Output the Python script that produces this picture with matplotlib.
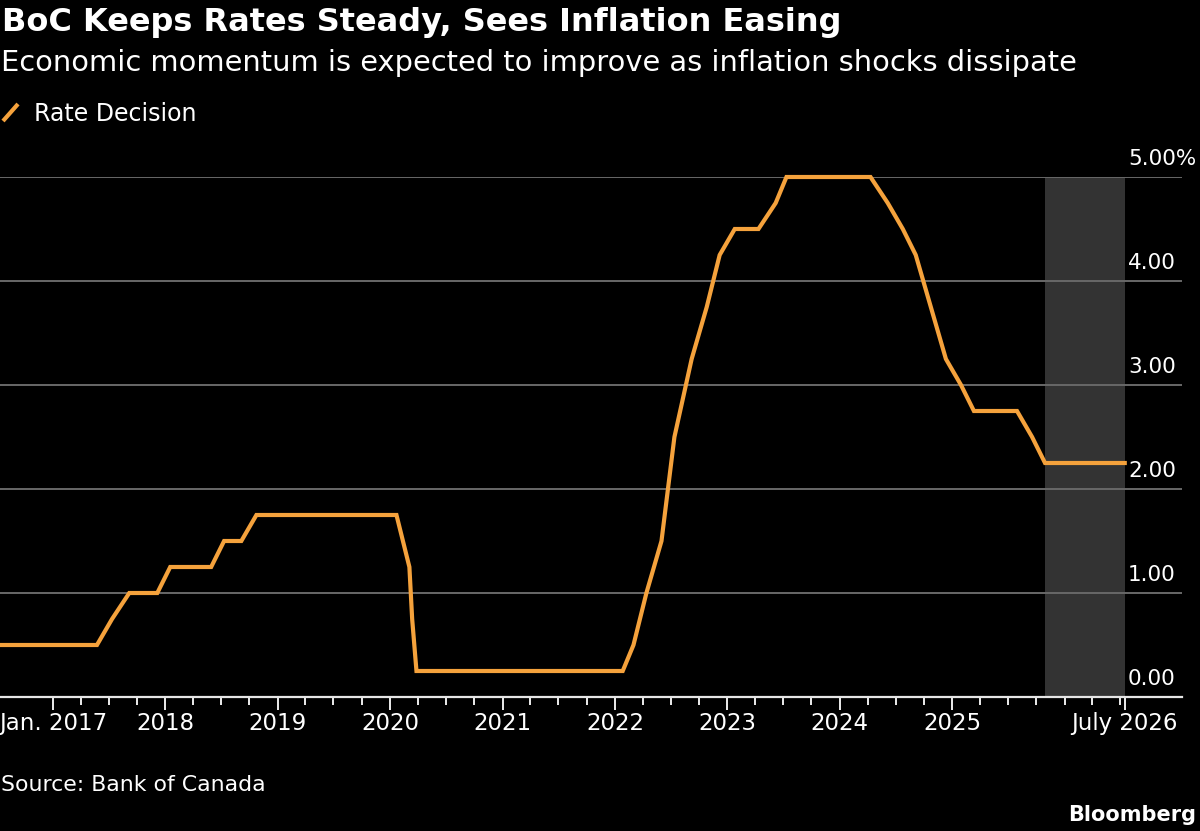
from datetime import datetime
import matplotlib
import matplotlib.pyplot as plt
import matplotlib.ticker as mticker
import matplotlib.dates as mdates
import matplotlib.transforms as mtransforms

matplotlib.use("Agg")                                                           # No display in sandbox

# BoC rate decisions (date of announcement, policy rate in %)
DecisionDates = [
    "2016-07-13", "2016-09-07", "2016-10-19", "2016-12-07",
    "2017-01-18", "2017-03-01", "2017-04-12", "2017-05-24", "2017-07-12", "2017-09-06", "2017-10-25", "2017-12-06",
    "2018-01-17", "2018-03-07", "2018-04-18", "2018-05-30", "2018-07-11", "2018-09-05", "2018-10-24", "2018-12-05",
    "2019-01-09", "2019-03-06", "2019-04-24", "2019-05-29", "2019-07-10", "2019-09-04", "2019-10-30", "2019-12-04",
    "2020-01-22", "2020-03-04", "2020-03-13", "2020-03-27", "2020-04-15", "2020-06-03", "2020-07-15", "2020-09-09",
    "2020-10-28", "2020-12-09",
    "2021-01-20", "2021-03-10", "2021-04-21", "2021-06-09", "2021-07-14", "2021-09-08", "2021-10-27", "2021-12-08",
    "2022-01-26", "2022-03-02", "2022-04-13", "2022-06-01", "2022-07-13", "2022-09-07", "2022-10-26", "2022-12-07",
    "2023-01-25", "2023-03-08", "2023-04-12", "2023-06-07", "2023-07-12", "2023-09-06", "2023-10-25", "2023-12-06",
    "2024-01-24", "2024-03-06", "2024-04-10", "2024-06-05", "2024-07-24", "2024-09-04", "2024-10-23", "2024-12-11",
    "2025-01-29", "2025-03-12", "2025-04-16", "2025-06-04", "2025-07-30", "2025-09-17", "2025-10-29", "2025-12-10",
    "2026-01-28", "2026-03-18", "2026-04-29", "2026-06-10", "2026-07-15",
]
Rates = [
    0.50, 0.50, 0.50, 0.50,
    0.50, 0.50, 0.50, 0.50, 0.75, 1.00, 1.00, 1.00,
    1.25, 1.25, 1.25, 1.25, 1.50, 1.50, 1.75, 1.75,
    1.75, 1.75, 1.75, 1.75, 1.75, 1.75, 1.75, 1.75,
    1.75, 1.25, 0.75, 0.25, 0.25, 0.25, 0.25, 0.25,
    0.25, 0.25,
    0.25, 0.25, 0.25, 0.25, 0.25, 0.25, 0.25, 0.25,
    0.25, 0.50, 1.00, 1.50, 2.50, 3.25, 3.75, 4.25,
    4.50, 4.50, 4.50, 4.75, 5.00, 5.00, 5.00, 5.00,
    5.00, 5.00, 5.00, 4.75, 4.50, 4.25, 3.75, 3.25,
    3.00, 2.75, 2.75, 2.75, 2.75, 2.50, 2.25, 2.25,
    2.25, 2.25, 2.25, 2.25, 2.25,
]
ShadeStart = "2025-10-29"                                                       # Last decision -> end of chart
ShadeEnd = "2026-07-15"

YTicks = [0, 1, 2, 3, 4, 5]
YLabels = ["0.00", "1.00", "2.00", "3.00", "4.00", "5.00%"]
XTickYears = [2017, 2018, 2019, 2020, 2021, 2022, 2023, 2024, 2025]
XLabels = ["Jan. 2017", "2018", "2019", "2020", "2021", "2022", "2023", "2024", "2025", "July 2026"]

TITLE = "BoC Keeps Rates Steady, Sees Inflation Easing"
SUBTITLE = "Economic momentum is expected to improve as inflation shocks dissipate"
SERIES = "Rate Decision"
SOURCE = "Source: Bank of Canada"

ORANGE = "#F5A23C"
BG = "black"
W, H = 1200, 831


def day(s):
    return datetime.strptime(s, "%Y-%m-%d")


Dates = [day(d) for d in DecisionDates]

plt.rcParams["font.family"] = ["DejaVu Sans"]
fig = plt.figure(figsize=(W / 100, H / 100), dpi=100, facecolor=BG)
ax = fig.add_axes([0, (H - 697) / H, 1182 / W, 520 / H], facecolor=BG)

# Shaded forward period
ax.axvspan(day(ShadeStart), day(ShadeEnd), color="#333333", lw=0, zorder=0)

# Grid
for v in YTicks[1:]:
    ax.axhline(v, color="#686868", lw=1.4, zorder=1)

ax.plot(Dates, Rates, color=ORANGE, lw=3.0, solid_joinstyle="miter", zorder=3, clip_on=False)

ax.set_xlim(day("2016-07-13"), day("2027-01-17"))
ax.set_ylim(0, 5)

# Y labels sit above each gridline, inside the plot on the right
trans = mtransforms.blended_transform_factory(ax.transAxes, ax.transData)
for v, lab in zip(YTicks, YLabels):
    ax.annotate(lab, xy=(1128 / 1182, v), xycoords=trans, xytext=(0, 8.5), textcoords="offset points",
                ha="left", va="baseline", color="white", fontsize=15.5)
ax.set_yticks([])

# X axis: majors on years and the end date, quarterly minors between them
Majors = [datetime(y, 1, 1) for y in XTickYears] + [day(ShadeEnd)]
Minors = [datetime(y, m, 1) for y in range(2017, 2027) for m in (1, 4, 7, 10)
          if datetime(y, m, 1) <= day(ShadeEnd)]
ax.set_xticks(Majors)
ax.set_xticklabels(XLabels)
ax.xaxis.set_minor_locator(mticker.FixedLocator(mdates.date2num(Minors)))
ax.tick_params(axis="x", which="major", length=9.5, width=1.3, color="white", pad=1.5,
               labelsize=16.5, labelcolor="white")
ax.tick_params(axis="x", which="minor", length=6, width=1.3, color="white")

for s in ["top", "left", "right"]:
    ax.spines[s].set_visible(False)
ax.spines["bottom"].set_color("#e6e6e6")
ax.spines["bottom"].set_linewidth(1.6)
ax.spines["bottom"].set_zorder(4)

# Header, legend, footer
fig.text(2 / W, 1 - 31 / H, TITLE, color="white", fontsize=23, fontweight="bold", va="baseline")
fig.text(1 / W, 1 - 71 / H, SUBTITLE, color="white", fontsize=20.8, va="baseline")
fig.add_artist(plt.Line2D([3 / W, 18 / W], [1 - 121 / H, 1 - 104 / H], color=ORANGE, lw=3,
                          solid_capstyle="butt"))
fig.text(34 / W, 1 - 121 / H, SERIES, color="white", fontsize=17, va="baseline")
fig.text(1 / W, 1 - 791 / H, SOURCE, color="white", fontsize=15.8, va="baseline")
fig.text(1196 / W, 1 - 821 / H, "Bloomberg", color="white", fontsize=15, fontweight="bold",
         ha="right", va="baseline")

fig.savefig("out.png", dpi=100, facecolor=BG)
